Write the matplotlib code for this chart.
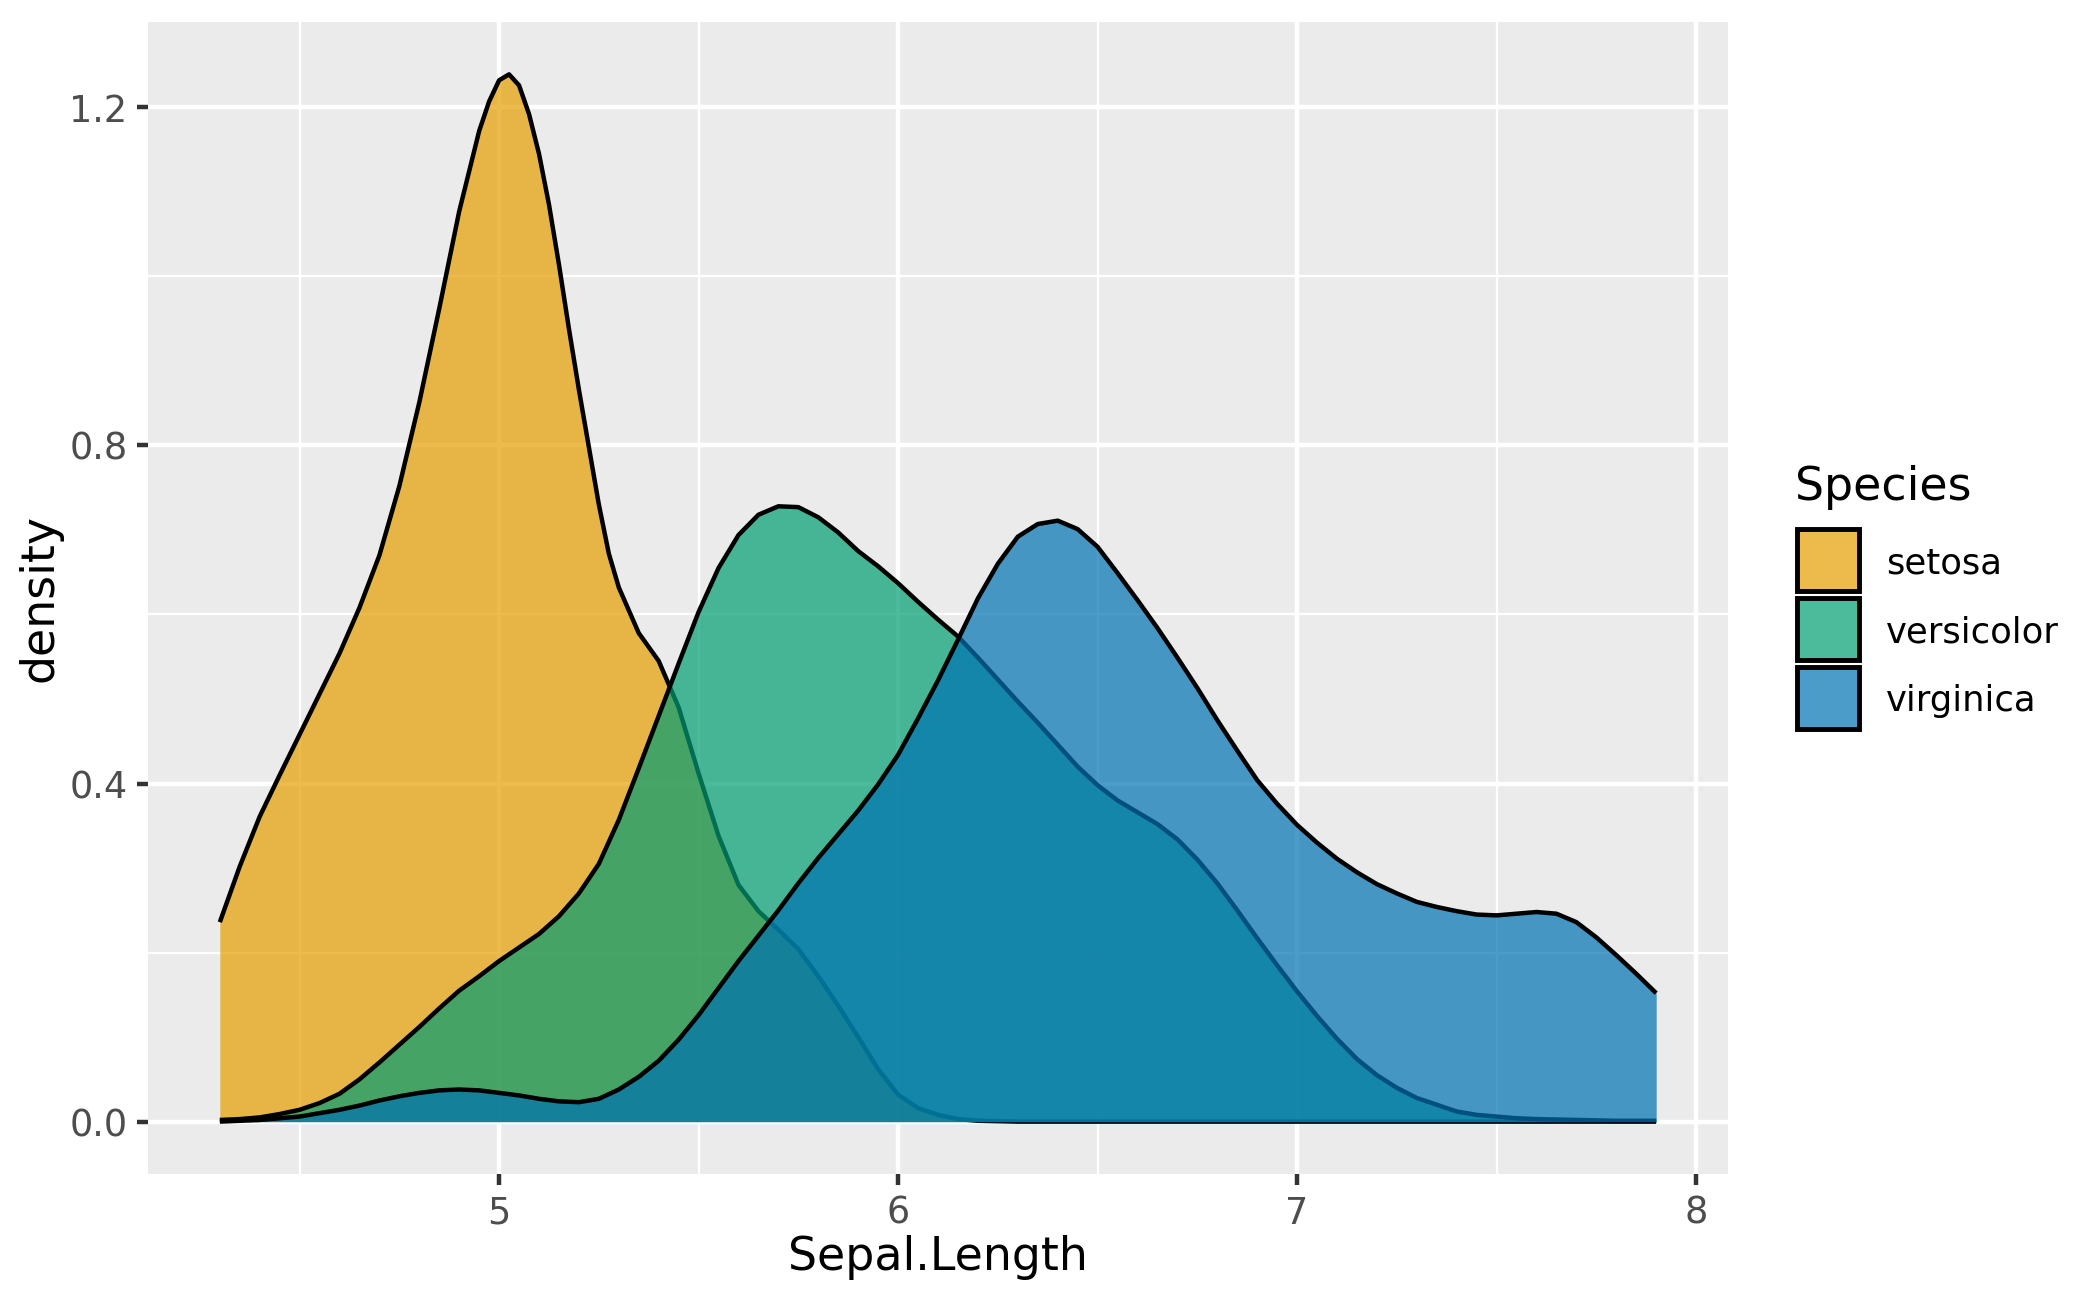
import matplotlib
matplotlib.use("Agg")
import matplotlib.pyplot as plt
from matplotlib.patches import Rectangle
from matplotlib.colors import to_rgba

plt.rcParams['font.family'] = ['DejaVu Sans']

species = ["setosa", "versicolor", "virginica"]
colors = ["#E69F00", "#009E73", "#0072B2"]

# Density curves (Sepal.Length vs density)
setosa_x = [4.30, 4.35, 4.40, 4.45, 4.50, 4.55, 4.60, 4.65, 4.70, 4.75, 4.80, 4.85,
            4.90, 4.95, 4.975, 5.00, 5.025, 5.05, 5.075, 5.10, 5.125, 5.15, 5.175,
            5.20, 5.25, 5.275, 5.30, 5.35, 5.40, 5.45, 5.50, 5.55, 5.60, 5.65, 5.70,
            5.75, 5.80, 5.85, 5.90, 5.95, 6.00, 6.05, 6.10, 6.15, 6.20, 6.30, 7.90]
setosa_y = [0.236, 0.302, 0.361, 0.410, 0.458, 0.506, 0.554, 0.608, 0.670, 0.752,
            0.851, 0.962, 1.077, 1.172, 1.207, 1.232, 1.239, 1.226, 1.192, 1.145,
            1.085, 1.014, 0.938, 0.866, 0.730, 0.672, 0.632, 0.578, 0.545, 0.490,
            0.412, 0.338, 0.280, 0.249, 0.227, 0.204, 0.172, 0.137, 0.100, 0.062,
            0.032, 0.016, 0.008, 0.003, 0.001, 0.000, 0.000]

versicolor_x = [4.30, 4.35, 4.40, 4.45, 4.50, 4.55, 4.60, 4.65, 4.70, 4.75, 4.80, 4.85,
                4.90, 4.95, 5.00, 5.05, 5.10, 5.15, 5.20, 5.25, 5.30, 5.35, 5.40, 5.45,
                5.50, 5.55, 5.60, 5.65, 5.70, 5.75, 5.80, 5.85, 5.90, 5.95, 6.00, 6.05,
                6.10, 6.15, 6.20, 6.25, 6.30, 6.35, 6.40, 6.45, 6.50, 6.55, 6.60, 6.65,
                6.70, 6.75, 6.80, 6.85, 6.90, 6.95, 7.00, 7.05, 7.10, 7.15, 7.20, 7.25,
                7.30, 7.35, 7.40, 7.45, 7.50, 7.55, 7.60, 7.70, 7.80, 7.90]
versicolor_y = [0.002, 0.003, 0.005, 0.009, 0.014, 0.022, 0.033, 0.050, 0.070, 0.091,
                0.112, 0.134, 0.155, 0.172, 0.190, 0.206, 0.222, 0.243, 0.270, 0.305,
                0.357, 0.418, 0.480, 0.542, 0.603, 0.655, 0.694, 0.718, 0.728, 0.727,
                0.715, 0.697, 0.675, 0.657, 0.637, 0.615, 0.594, 0.574, 0.549, 0.523,
                0.497, 0.472, 0.446, 0.420, 0.398, 0.380, 0.366, 0.352, 0.334, 0.310,
                0.282, 0.250, 0.217, 0.185, 0.154, 0.125, 0.098, 0.074, 0.055, 0.040,
                0.028, 0.020, 0.012, 0.008, 0.006, 0.004, 0.003, 0.002, 0.001, 0.001]

virginica_x = [4.30, 4.40, 4.50, 4.55, 4.60, 4.65, 4.70, 4.75, 4.80, 4.85, 4.90, 4.95,
               5.00, 5.05, 5.10, 5.15, 5.20, 5.25, 5.30, 5.35, 5.40, 5.45, 5.50, 5.55,
               5.60, 5.65, 5.70, 5.75, 5.80, 5.85, 5.90, 5.95, 6.00, 6.05, 6.10, 6.15,
               6.20, 6.25, 6.30, 6.35, 6.40, 6.45, 6.50, 6.55, 6.60, 6.65, 6.70, 6.75,
               6.80, 6.85, 6.90, 6.95, 7.00, 7.05, 7.10, 7.15, 7.20, 7.25, 7.30, 7.35,
               7.40, 7.45, 7.50, 7.55, 7.60, 7.65, 7.70, 7.75, 7.80, 7.85, 7.90]
virginica_y = [0.000, 0.002, 0.006, 0.010, 0.014, 0.019, 0.025, 0.030, 0.034, 0.037,
               0.038, 0.037, 0.034, 0.031, 0.027, 0.024, 0.023, 0.027, 0.038, 0.053,
               0.072, 0.097, 0.126, 0.158, 0.190, 0.220, 0.250, 0.282, 0.312, 0.340,
               0.368, 0.399, 0.434, 0.477, 0.522, 0.570, 0.619, 0.660, 0.692, 0.707,
               0.711, 0.701, 0.680, 0.649, 0.617, 0.584, 0.549, 0.513, 0.475, 0.439,
               0.404, 0.376, 0.351, 0.330, 0.311, 0.295, 0.281, 0.270, 0.260, 0.254,
               0.249, 0.245, 0.244, 0.246, 0.248, 0.246, 0.236, 0.218, 0.197, 0.175,
               0.152]

series_x = [setosa_x, versicolor_x, virginica_x]
series_y = [setosa_y, versicolor_y, virginica_y]

x_ticks = [5, 6, 7, 8]
x_minor = [4.5, 5.5, 6.5, 7.5]
y_ticks = [0.0, 0.4, 0.8, 1.2]
y_minor = [0.2, 0.6, 1.0]

W, H = 2100, 1299
fig = plt.figure(figsize=(7, 4.33), dpi=300)
L, R, T, B = 148, 1728, 22, 1174
ax = fig.add_axes([L / W, 1 - B / H, (R - L) / W, (B - T) / H])
ax.set_facecolor("#EBEBEB")
for s in ax.spines.values():
    s.set_visible(False)

lw_major = 1.07
for v in x_minor:
    ax.axvline(v, color="white", lw=lw_major / 2, zorder=0.5)
for v in y_minor:
    ax.axhline(v, color="white", lw=lw_major / 2, zorder=0.5)
for v in x_ticks:
    ax.axvline(v, color="white", lw=lw_major, zorder=0.6)
for v in y_ticks:
    ax.axhline(v, color="white", lw=lw_major, zorder=0.6)

for i, (xs, ys, c) in enumerate(zip(series_x, series_y, colors)):
    ax.fill_between(xs, 0, ys, color=c, alpha=0.7, linewidth=0, zorder=2 + i * 2)
    ax.plot(xs, ys, color="black", lw=lw_major, zorder=2 + i * 2 + 1,
            solid_joinstyle="round", solid_capstyle="butt")

xmin = min(min(x) for x in series_x)
xmax = max(max(x) for x in series_x)
ymax = max(max(y) for y in series_y)
dx = (xmax - xmin) * 0.05
dy = ymax * 0.05
ax.set_xlim(xmin - dx, xmax + dx)
ax.set_ylim(-dy, ymax + dy)

ax.set_xticks(x_ticks)
ax.set_xticklabels([str(v) for v in x_ticks])
ax.set_yticks(y_ticks)
ax.set_yticklabels([f"{v:.1f}" for v in y_ticks])
ax.tick_params(axis="both", length=2.75, width=lw_major, color="#333333",
               pad=2.2, labelsize=8.8, labelcolor="#4D4D4D")

ax.set_xlabel("Sepal.Length", fontsize=11, color="black", labelpad=0.8)
ax.set_ylabel("density", fontsize=11, color="black", labelpad=1.5)

# Legend (drawn in figure pixel coordinates)
fig.text(1795 / W, 1 - 500 / H, "Species", fontsize=11, color="black",
         ha="left", va="baseline")
key_top = 527
pitch = 69
size = 62
for i, (name, c) in enumerate(zip(species, colors)):
    y0 = key_top + i * pitch + 2
    rect = Rectangle((1797 / W, 1 - (y0 + size) / H), size / W, size / H,
                     transform=fig.transFigure, facecolor=to_rgba(c, 0.7),
                     edgecolor="black", linewidth=lw_major * 1.1)
    fig.patches.append(rect)
    fig.text(1886 / W, 1 - (y0 + size / 2) / H, name, fontsize=8.5,
             color="black", ha="left", va="center_baseline")

fig.savefig("out.png", dpi=300, facecolor="white")
